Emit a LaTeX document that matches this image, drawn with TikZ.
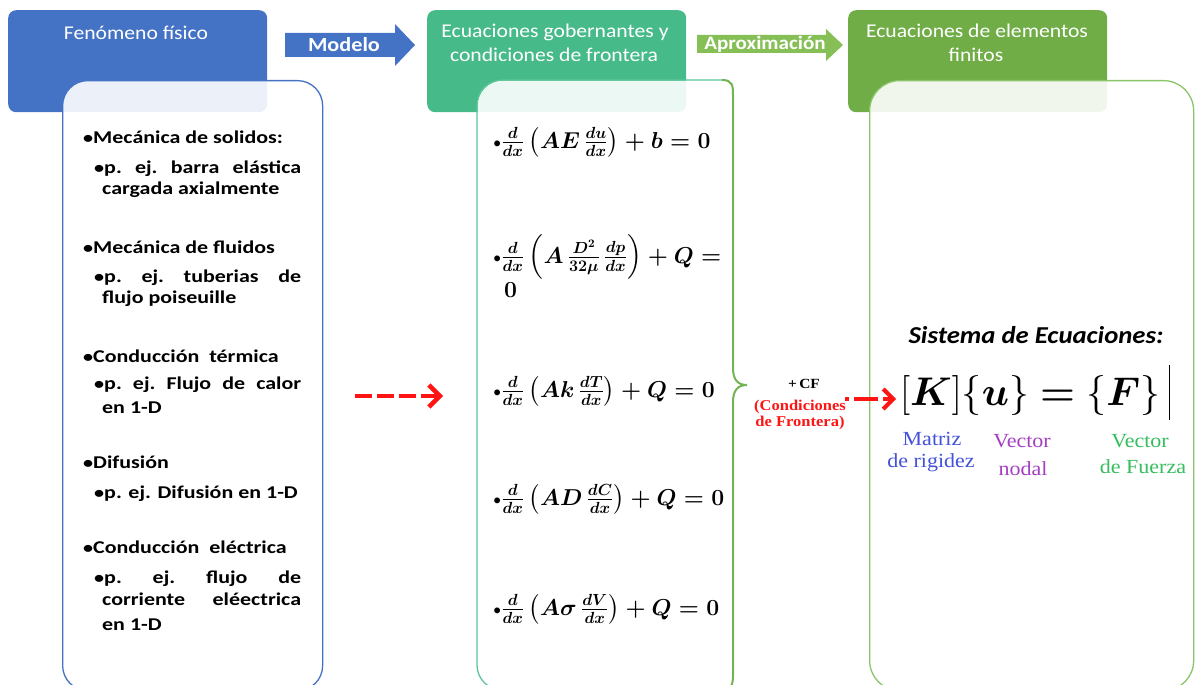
\RequirePackage{fix-cm}
\documentclass[tikz,border=0pt]{standalone}
\usepackage{amsmath,bm}
\usepackage[no-math]{fontspec}
\setmainfont{Carlito}
\newfontfamily\hdrfont{Carlito}[FakeStretch=1.11]
\newfontfamily\lstfont{Carlito}[FakeStretch=1.22]
\newfontfamily\sysfont{Carlito}[FakeStretch=1.1]
\newfontfamily\tms{Liberation Serif}[FakeStretch=1.1]
\usetikzlibrary{arrows.meta}
\definecolor{hblue}{HTML}{4472C4}
\definecolor{hteal}{HTML}{47BA8A}
\definecolor{hgreen}{HTML}{70AD47}
\definecolor{bteal}{HTML}{5CC598}
\definecolor{bgreen}{HTML}{8BC46A}
\definecolor{bracegreen}{HTML}{74B352}
\definecolor{aprox}{HTML}{86BF55}
\definecolor{lblue}{HTML}{4352D8}
\definecolor{lpurple}{HTML}{A43EC2}
\definecolor{lgreen}{HTML}{35BD5E}
\definecolor{cfred}{HTML}{FF1414}
% small list bullet
\newcommand{\bul}{{\fontsize{16.5}{14}\selectfont •}}
\begin{document}
\begin{tikzpicture}[x=1pt,y=-1pt,
  hdr/.style={rounded corners=8pt, inner sep=0pt, anchor=north west,
    minimum width=259pt, minimum height=102pt},
  panel/.style={rounded corners=25pt, inner sep=0pt, anchor=north west,
    minimum height=610pt, fill=white, fill opacity=0.9, line width=1.3pt},
  htext/.style={text=white, font=\hdrfont\fontsize{19.5}{22}\selectfont, inner sep=0pt, anchor=base},
  item/.style={font=\lstfont\bfseries\fontsize{18}{20}\selectfont, inner sep=0pt, anchor=base west},
  eqn/.style={font=\boldmath\fontsize{23}{26}\selectfont, inner sep=0pt, anchor=base west},
  lbl/.style={font=\tms\fontsize{20}{24}\selectfont, inner sep=0pt, anchor=base},
  redarrow/.style={draw=cfred, line width=4.5pt},
]
\useasboundingbox (0,0) rectangle (1200,685);
\clip (0,0) rectangle (1200,685);

% ---- column headers ----
\node[hdr, fill=hblue]  (h1) at (8,10) {};
\node[hdr, fill=hteal]  (h2) at (427,10) {};
\node[hdr, fill=hgreen] (h3) at (848,10) {};

% ---- content panels (lightly transparent over the headers) ----
\node[panel, draw=hblue, minimum width=260pt] (b1) at (62,80) {};
\node[panel, minimum width=256pt] (b2) at (477,80) {};
\node[panel, draw=bgreen, rounded corners=30pt, minimum width=324pt] (b3) at (869,80) {};

% panel 2: teal frame, closed on the right by a curly brace
\draw[bteal, line width=1.3pt, rounded corners=25pt]
  (722,80) -- (477,80) -- (477,690) -- (722,690);
\draw[bracegreen, line width=2pt]
  (722,80) .. controls (733,80) and (733,86) .. (733,96)
  -- (733,368) .. controls (733,380) and (738,385) .. (747,385)
  .. controls (738,385) and (733,390) .. (733,402)
  -- (733,676) .. controls (733,686) and (730,690) .. (722,690);

% ---- header titles ----
\node[htext] (t1)  at (136,40) {Fenómeno físico};
\node[htext] (t2a) at (555,38) {Ecuaciones gobernantes y};
\node[htext] (t2b) at (554,62) {condiciones de frontera};
\node[htext] (t3a) at (977,38) {Ecuaciones de elementos};
\node[htext] (t3b) at (976,62) {finitos};

% ---- block arrows between headers ----
\fill[hblue] (285,33) -- (395,33) -- (395,24) -- (415,45) -- (395,66) -- (395,57) -- (285,57) -- cycle;
\node[text=white, font=\hdrfont\bfseries\fontsize{20}{24}\selectfont, inner sep=0pt, anchor=base] (mod) at (344,52) {Modelo};
\fill[aprox] (697,35) -- (826,35) -- (826,29) -- (843,45) -- (826,61) -- (826,53) -- (697,53) -- cycle;
\node[text=white, font=\hdrfont\bfseries\fontsize{19}{24}\selectfont, inner sep=0pt, anchor=base] (apx) at (765,50) {Aproximación};

% ---- physical phenomena ----
\node[item] (p1)  at (83,143) {\bul Mecánica de solidos:};
\node[item] (p1a) at (94,173) {\hbox to 207pt{\bul p.\hfill ej.\hfill barra\hfill elástica}};
\node[item] (p1b) at (102,194) {cargada axialmente};
\node[item] (p2)  at (83,253) {\bul Mecánica de fluidos};
\node[item] (p2a) at (94,282) {\hbox to 207pt{\bul p.\hfill ej.\hfill tuberias\hfill de}};
\node[item] (p2b) at (102,303) {flujo poiseuille};
\node[item] (p3)  at (83,362) {\bul Conducción\ \ térmica};
\node[item] (p3a) at (94,389) {\hbox to 207pt{\bul p.\hfill ej.\hfill Flujo\hfill de\hfill calor}};
\node[item] (p3b) at (102,413) {en 1-D};
\node[item] (p4)  at (83,468) {\bul Difusión};
\node[item] (p4a) at (94,498) {\bul p. ej. Difusión en 1-D};
\node[item] (p5)  at (83,553) {\bul Conducción\ \ eléctrica};
\node[item] (p5a) at (94,583) {\hbox to 207pt{\bul p.\hfill ej.\hfill flujo\hfill de}};
\node[item] (p5b) at (102,605) {\hbox to 199pt{corriente\hfill eléectrica}};
\node[item] (p5c) at (102,630) {en 1-D};

% ---- governing equations ----
\node[eqn] (e1) at (493,148) {\bul$\frac{d}{dx}\left(AE\,\frac{du}{dx}\right)+b=0$};
\node[eqn] (e2) at (493,263) {\bul$\frac{d}{dx}\left(A\,\frac{D^2}{32\mu}\,\frac{dp}{dx}\right)+Q=$};
\node[eqn] (e2b) at (504,297) {$0$};
\node[eqn] (e3) at (493,397) {\bul$\frac{d}{dx}\left(Ak\,\frac{dT}{dx}\right)+Q=0$};
\node[eqn] (e4) at (493,505) {\bul$\frac{d}{dx}\left(AD\,\frac{dC}{dx}\right)+Q=0$};
\node[eqn] (e5) at (493,615) {\bul$\frac{d}{dx}\left(A\sigma\,\frac{dV}{dx}\right)+Q=0$};

% ---- boundary conditions ----
\node[font=\tms\bfseries\fontsize{14}{16}\selectfont, inner sep=0pt, anchor=base] (cf) at (804,388) {+\,CF};
\node[font=\tms\bfseries\fontsize{15}{17}\selectfont, text=cfred, inner sep=0pt, align=center, anchor=base] (cfl) at (800,426)
  {(Condiciones\\[-1pt]de Frontera)};

% ---- finite element system ----
\node[font=\sysfont\bfseries\itshape\fontsize{24.3}{26}\selectfont, inner sep=0pt, anchor=base] (sys) at (1036,343) {Sistema de Ecuaciones:};
\node[font=\fontsize{40}{44}\selectfont, inner sep=0pt, anchor=base west] (kuf) at (900,405)
  {$[\bm{K}]\{\bm{u}\}\mathrel{\bm{=}}\{\bm{F}\}$};
\coordinate (cur) at (1169,365);
\draw[line width=1pt] (cur) -- ++(0,55);
\node[lbl, text=lblue]   (m1) at (932,445) {Matriz};
\node[lbl, text=lblue]   (m2) at (931,467) {de rigidez};
\node[lbl, text=lpurple] (v1) at (1022,447) {Vector};
\node[lbl, text=lpurple] (v2) at (1023,475) {nodal};
\node[lbl, text=lgreen]  (f1) at (1140,447) {Vector};
\node[lbl, text=lgreen]  (f2) at (1143,473) {de Fuerza};

% ---- red dashed arrows ----
\coordinate (ra1) at (355,396);
\coordinate (ra2) at (443,396);
\draw[redarrow, dash pattern=on 17pt off 5pt, -{Straight Barb[length=11pt,width=22pt]}] (ra1) -- (ra2);
\coordinate (rb1) at (845,399);
\coordinate (rb2) at (896,399);
\draw[redarrow, line width=4pt, dash pattern=on 4pt off 5pt on 20pt off 0pt, -{Straight Barb[length=10pt,width=20pt]}] (rb1) -- (rb2);
\end{tikzpicture}
\end{document}
